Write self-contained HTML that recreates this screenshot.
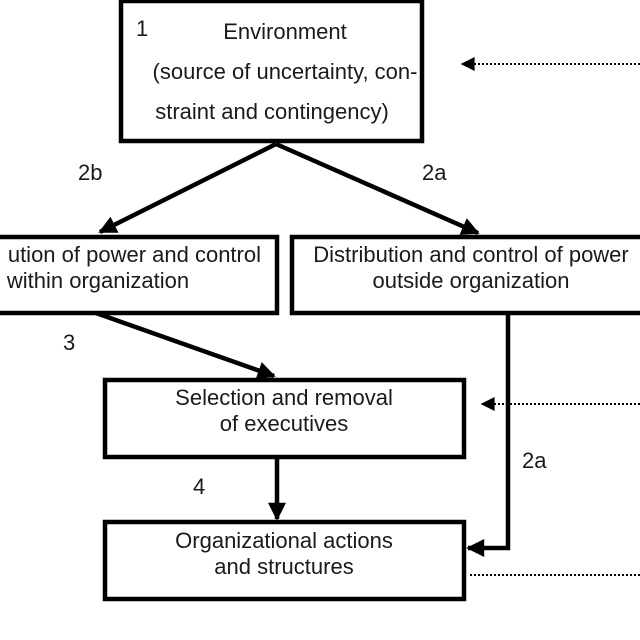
<!DOCTYPE html>
<html><head><style>
html,body{margin:0;padding:0;background:#fff;}
svg{display:block}
text{font-family:"Liberation Sans",sans-serif;font-size:22px;fill:#1a1a1a}
</style></head><body>
<svg width="640" height="640" viewBox="0 0 640 640">
<defs>
<marker id="a" viewBox="0 0 10 10" refX="9" refY="5" markerWidth="5" markerHeight="4" orient="auto" markerUnits="strokeWidth"><path d="M0,0L10,5L0,10z" fill="#000"/></marker>
<marker id="b" viewBox="0 0 10 10" refX="9" refY="5" markerWidth="20" markerHeight="14" orient="auto" markerUnits="userSpaceOnUse"><path d="M0,0L10,5L0,10z" fill="#000"/></marker>
</defs>
<g fill="none" stroke="#000" stroke-width="4.5">
<rect x="121" y="1" width="301" height="140"/>
<rect x="-10" y="237" width="287" height="76"/>
<rect x="292" y="237" width="360" height="76"/>
<rect x="105" y="380" width="359" height="77"/>
<rect x="105" y="522" width="359" height="77"/>
<line x1="276" y1="144" x2="100" y2="232" marker-end="url(#a)"/>
<line x1="276" y1="144" x2="478" y2="233" marker-end="url(#a)"/>
<line x1="96" y1="313" x2="274" y2="376" marker-end="url(#a)"/>
<line x1="277" y1="458" x2="277" y2="519" marker-end="url(#a)"/>
<polyline points="508,313 508,548 468,548" marker-end="url(#a)"/>
</g>
<g fill="none" stroke="#000" stroke-width="2" stroke-dasharray="2,2">
<line x1="640" y1="64" x2="462" y2="64" marker-end="url(#b)"/>
<line x1="640" y1="404" x2="482" y2="404" marker-end="url(#b)"/>
<line x1="470" y1="575" x2="640" y2="575"/>
</g>
<text x="136" y="36">1</text>
<text x="285" y="39" text-anchor="middle">Environment</text>
<text x="285" y="79" text-anchor="middle">(source of uncertainty, con-</text>
<text x="272" y="119" text-anchor="middle">straint and contingency)</text>
<text x="78" y="180">2b</text>
<text x="422" y="180">2a</text>
<text x="261" y="262" text-anchor="end">ution of power and control</text>
<text x="98" y="288" text-anchor="middle">within organization</text>
<text x="471" y="262" text-anchor="middle">Distribution and control of power</text>
<text x="471" y="288" text-anchor="middle">outside organization</text>
<text x="63" y="350">3</text>
<text x="284" y="405" text-anchor="middle">Selection and removal</text>
<text x="284" y="431" text-anchor="middle">of executives</text>
<text x="193" y="494">4</text>
<text x="522" y="468">2a</text>
<text x="284" y="548" text-anchor="middle">Organizational actions</text>
<text x="284" y="574" text-anchor="middle">and structures</text>
</svg>
</body></html>
